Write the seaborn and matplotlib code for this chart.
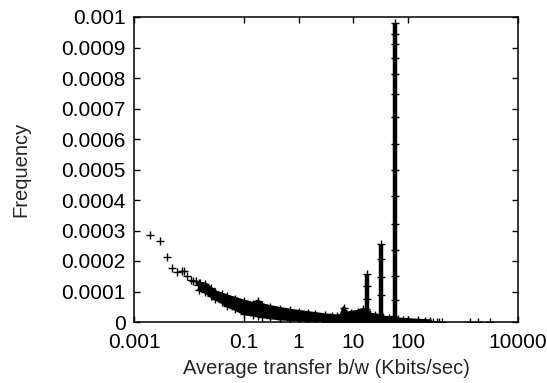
import numpy as np
import pandas as pd
import matplotlib
matplotlib.use("Agg")
import matplotlib.pyplot as plt
from matplotlib.ticker import FixedLocator, FixedFormatter, NullLocator
import seaborn as sns

# ---------------- data ----------------
# isolated points at the low end (Kbits/sec, frequency)
low_x = [0.00196, 0.00298, 0.00405, 0.0050, 0.0062, 0.0074, 0.0081, 0.0094,
         0.0108, 0.0121, 0.0135, 0.0149, 0.0158]
low_y = [0.000285, 0.000266, 0.000212, 0.000176, 0.000163, 0.000168, 0.000168,
         0.000151, 0.000138, 0.000134, 0.000134, 0.000121, 0.000128]

# dense band: x with upper and lower envelope
band_x = [0.015, 0.02, 0.025, 0.03, 0.04, 0.05, 0.07, 0.1, 0.15, 0.18, 0.22,
          0.3, 0.45, 0.7, 1.0, 1.5, 2.0, 3.0, 4.0, 5.0, 6.0, 6.7, 7.5, 9.0,
          12.0, 15.0, 17.0, 20.0, 25.0, 30.0, 35.0, 45.0, 55.0, 65.0, 80.0,
          100.0, 150.0, 200.0, 250.0]
band_hi = [0.000127, 0.000124, 0.000110, 0.000099, 0.000091, 0.000084, 0.000077,
           0.000068, 0.000060, 0.000068, 0.000056, 0.000050, 0.000044, 0.000038,
           0.000034, 0.000030, 0.000027, 0.000023, 0.000021, 0.000019, 0.000021,
           0.000046, 0.000027, 0.000031, 0.000034, 0.000041, 0.000041, 0.000025,
           0.000023, 0.000020, 0.000015, 0.000014, 0.000015, 0.000009, 0.000008,
           0.000007, 0.000005, 0.000004, 0.000003]
band_lo = [0.000106, 0.000097, 0.000085, 0.000076, 0.000064, 0.000052, 0.000041,
           0.000027, 0.000022, 0.000020, 0.000017, 0.000014, 0.000010, 0.000008,
           0.000006, 0.000004, 0.000002, 0.000001, 0.0, 0.0, 0.0, 0.0, 0.0, 0.0,
           0.0, 0.0, 0.0, 0.0, 0.0, 0.0, 0.0, 0.0, 0.0, 0.0, 0.0, 0.0, 0.0, 0.0, 0.0]

# spikes
spike_x = [17.7, 31.8, 57.2]
spike_top = [0.000157, 0.000256, 0.000981]
spike_pts_x = [17.7, 17.7, 17.7, 31.8, 31.8, 31.8, 31.8, 57.2, 57.2, 57.2, 57.2,
               57.2, 57.2, 57.2, 57.2, 57.2, 57.2, 57.2, 57.2, 57.2, 57.2]
spike_pts_y = [0.000157, 0.000118, 0.000074, 0.000256, 0.000205, 0.000148, 0.000087,
               0.000981, 0.000945, 0.000912, 0.000866, 0.000812, 0.000748, 0.000671,
               0.000583, 0.000497, 0.000412, 0.000322, 0.000236, 0.000151, 0.000072]

# sparse tail
tail_x = [286, 330, 367, 411, 1333, 1888, 3083]
tail_y = [0.0000012, 0.0000012, 0.0000012, 0.0000012, 0.0000012, 0.0000012, 0.0000012]

xtick_vals = [0.001, 0.1, 1, 10, 100, 10000]
xtick_labels = ["0.001", "0.1", "1", "10", "100", "10000"]
ytick_vals = [0.0, 0.0001, 0.0002, 0.0003, 0.0004, 0.0005, 0.0006, 0.0007,
              0.0008, 0.0009, 0.001]
ytick_labels = ["0", "0.0001", "0.0002", "0.0003", "0.0004", "0.0005", "0.0006",
                "0.0007", "0.0008", "0.0009", "0.001"]

x_label = "Average transfer b/w (Kbits/sec)"
y_label = "Frequency"

# ---------------- drawing ----------------
sns.set_style("ticks")
plt.rcParams["font.family"] = ["Liberation Sans", "DejaVu Sans"]

fig = plt.figure(figsize=(5.47, 3.83), dpi=100)
ax = fig.add_axes([134 / 547, 61 / 383, 384 / 547, 305 / 383])

pt = dict(marker="+", color="black", s=26, linewidth=1.0, ax=ax, legend=False)

# band core
ax.fill_between(band_x, band_lo, band_hi, color="black", linewidth=0)
ax.plot(band_x, band_hi, color="black", linewidth=2.5)
ax.plot(band_x, band_lo, color="black", linewidth=2.0)
sns.scatterplot(x=band_x, y=band_hi, **pt)
sns.scatterplot(x=band_x, y=band_lo, **pt)

# spikes
ax.vlines(spike_x, 0, spike_top, color="black", linewidth=3.2)
sns.scatterplot(x=spike_pts_x, y=spike_pts_y, **pt)

# isolated points
sns.scatterplot(x=low_x, y=low_y, **pt)
sns.scatterplot(x=tail_x, y=tail_y, **pt)

ax.set_xscale("log")
ax.set_xlim(0.001, 10000)
ax.set_ylim(0, 0.001)
ax.xaxis.set_major_locator(FixedLocator(xtick_vals))
ax.xaxis.set_major_formatter(FixedFormatter(xtick_labels))
ax.xaxis.set_minor_locator(NullLocator())
ax.yaxis.set_major_locator(FixedLocator(ytick_vals))
ax.yaxis.set_major_formatter(FixedFormatter(ytick_labels))

ax.tick_params(direction="in", length=4, width=1.0, top=True, right=True,
               labelsize=15, colors="black")
ax.tick_params(axis="x", pad=8)
ax.tick_params(axis="y", pad=6)
for s in ax.spines.values():
    s.set_visible(True)
    s.set_linewidth(1.1)
    s.set_color("black")

ax.set_xlabel(x_label, fontsize=14.5, labelpad=5)
ax.set_ylabel(y_label, fontsize=14.5, labelpad=22)

fig.savefig("out.png", dpi=100)
